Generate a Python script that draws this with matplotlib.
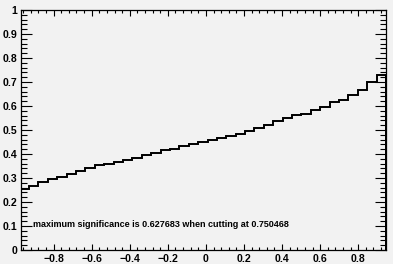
import numpy as np
import matplotlib
matplotlib.use("Agg")
import matplotlib.pyplot as plt
from matplotlib.ticker import FixedLocator, MultipleLocator

# significance per cut value (39 bins, first one partly outside the frame)
significance = [0.255, 0.268, 0.282, 0.296, 0.303, 0.317, 0.331, 0.342, 0.354, 0.357,
                0.365, 0.375, 0.383, 0.394, 0.405, 0.415, 0.422, 0.432, 0.442, 0.452,
                0.460, 0.468, 0.476, 0.484, 0.497, 0.507, 0.521, 0.539, 0.551, 0.562,
                0.567, 0.583, 0.597, 0.617, 0.625, 0.645, 0.667, 0.700, 0.731]
x_min, x_max = -0.973, 0.946
bin_width = 0.04935
x_ticks = [-0.8, -0.6, -0.4, -0.2, 0, 0.2, 0.4, 0.6, 0.8]
x_labels = ["\u22120.8", "\u22120.6", "\u22120.4", "\u22120.2", "0", "0.2", "0.4", "0.6", "0.8"]
y_ticks = [0, 0.1, 0.2, 0.3, 0.4, 0.5, 0.6, 0.7, 0.8, 0.9, 1]
y_labels = ["0", "0.1", "0.2", "0.3", "0.4", "0.5", "0.6", "0.7", "0.8", "0.9", "1"]
max_sig = 0.627683
best_cut = 0.750468

n = len(significance)
edges = x_max - bin_width * np.arange(n, -1, -1)

bg = "#f2f2f2"
fig = plt.figure(figsize=(3.93, 2.64), dpi=100, facecolor=bg)
ax = fig.add_axes([20.7 / 393, 1 - 250 / 264, (386 - 20.7) / 393, 240 / 264])
ax.set_facecolor(bg)

ax.stairs(significance, edges, baseline=0, color="black", lw=1.4)
ax.plot([edges[-1], edges[-1]], [0, significance[-1]], color="black", lw=1.4)

ax.set_xlim(x_min, x_max)
ax.set_ylim(0, 1)

ax.xaxis.set_major_locator(FixedLocator(x_ticks))
ax.set_xticklabels(x_labels)
ax.xaxis.set_minor_locator(MultipleLocator(0.04))
ax.yaxis.set_major_locator(FixedLocator(y_ticks))
ax.set_yticklabels(y_labels)
ax.yaxis.set_minor_locator(MultipleLocator(0.02))

ax.tick_params(axis="both", which="both", direction="in", top=True, right=True,
               color="black", width=0.8)
ax.tick_params(axis="x", which="major", length=4.3, pad=3)
ax.tick_params(axis="x", which="minor", length=2.2)
ax.tick_params(axis="y", which="major", length=8, pad=2.5)
ax.tick_params(axis="y", which="minor", length=4)
for lab in ax.get_xticklabels() + ax.get_yticklabels():
    lab.set_fontfamily("Liberation Sans")
    lab.set_fontweight("bold")
    lab.set_fontsize(7.6)

for s in ax.spines.values():
    s.set_linewidth(0.9)
    s.set_color("black")

ax.text(-0.907, 0.097,
        "maximum significance is %g when cutting at %g" % (max_sig, best_cut),
        fontfamily="Liberation Sans", fontweight="bold", fontsize=6.5,
        ha="left", va="baseline")

fig.savefig("out.png", dpi=100, facecolor=bg)
